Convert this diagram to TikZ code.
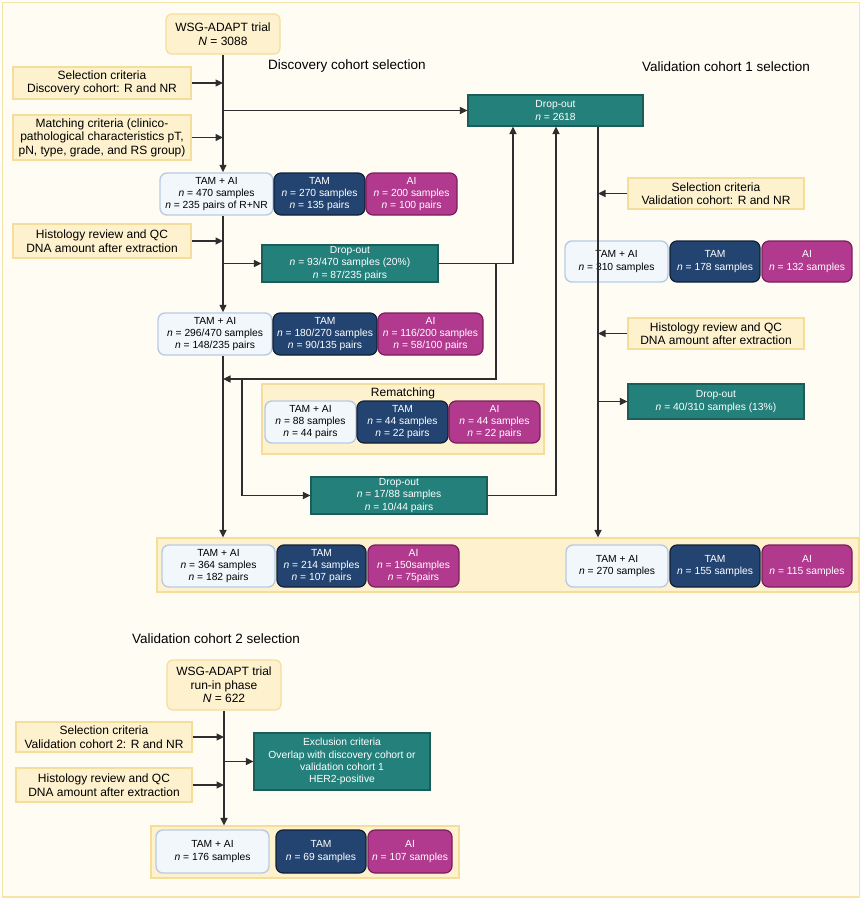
\documentclass[tikz,border=0pt]{standalone}
\usepackage{fontspec}
\setmainfont{Liberation Sans}
\usetikzlibrary{arrows.meta}
\definecolor{bgc}{HTML}{FFFCF3}
\definecolor{frameedge}{HTML}{F6E3A6}
\definecolor{yfill}{HTML}{FDF1CE}
\definecolor{yedge}{HTML}{F5DD9B}
\definecolor{tealc}{HTML}{24807A}
\definecolor{tealedge}{HTML}{1B5E59}
\definecolor{navyc}{HTML}{234470}
\definecolor{navyedge}{HTML}{111F36}
\definecolor{magc}{HTML}{B13A8F}
\definecolor{magedge}{HTML}{7A1F5C}
\definecolor{lightc}{HTML}{F2F7FC}
\definecolor{lightedge}{HTML}{B9CCE4}
\definecolor{linec}{HTML}{2E2E2E}
\newcommand\nn{\textit{n}}
\newcommand\bx[7]{\node[#2, minimum width={#5-#3}, minimum height={#6-#4}] (#1) at ({(#3+#5)/2},{(#4+#6)/2}) {#7};}
\begin{document}
\begin{tikzpicture}[x=1pt,y=-1pt,
  every node/.style={inner sep=0pt, align=center},
  crit/.style={draw=yedge, fill=yfill, line width=1.2pt, font=\fontsize{12}{13.5}\selectfont},
  ryel/.style={crit, rounded corners=6pt},
  frm/.style={draw=yedge, fill=yfill, line width=1.2pt},
  tealbox/.style={draw=tealedge, fill=tealc, text=white, line width=1.2pt, font=\fontsize{10.3}{12.2}\selectfont},
  lbox/.style={draw=lightedge, fill=lightc, line width=1.4pt, rounded corners=7pt, font=\fontsize{10.3}{12.2}\selectfont},
  nbox/.style={draw=navyedge, fill=navyc, text=white, line width=1.2pt, rounded corners=7pt, font=\fontsize{10.3}{12.2}\selectfont},
  mbox/.style={draw=magedge, fill=magc, text=white, line width=1.2pt, rounded corners=7pt, font=\fontsize{10.3}{12.2}\selectfont},
  ttl/.style={font=\fontsize{13.5}{15}\selectfont},
  ln/.style={draw=linec, line width=1.4pt},
  arr/.style={ln, -{Triangle[length=7.5pt,width=7pt]}}
]
\useasboundingbox (0,0) rectangle (864,900);
\draw[fill=bgc, draw=frameedge, line width=1.5pt] (2.5,2.5) rectangle (859.5,897);

% titles
\node[ttl] (t1) at (347,66.5) {Discovery cohort selection};
\node[ttl] (t2) at (726,66.5) {Validation cohort 1 selection};
\node[ttl] (t3) at (216,639) {Validation cohort 2 selection};

% discovery column
\bx{A}{ryel}{166}{14}{280}{54}{WSG-ADAPT trial\\\textit{N} = 3088}
\bx{sel1}{crit}{13}{67}{191}{99}{Selection criteria\\Discovery cohort: R and NR}
\bx{mat1}{crit}{13}{115}{191}{160}{Matching criteria (clinico-\\pathological characteristics pT,\\pN, type, grade, and RS group)}
\bx{do0}{tealbox}{468}{95}{643}{126}{Drop-out\\\nn{} = 2618}
\bx{r1a}{lbox}{160}{173}{273}{215}{TAM + AI\\\nn{} = 470 samples\\\nn{} = 235 pairs of R+NR}
\bx{r1b}{nbox}{274}{173}{365}{215}{TAM\\\nn{} = 270 samples\\\nn{} = 135 pairs}
\bx{r1c}{mbox}{366}{173}{457}{215}{AI\\\nn{} = 200 samples\\\nn{} = 100 pairs}
\bx{his1}{crit}{13}{224}{191}{258}{Histology review and QC\\DNA amount after extraction}
\bx{do2}{tealbox}{262}{245}{438}{282}{Drop-out\\\nn{} = 93/470 samples (20\%)\\\nn{} = 87/235 pairs}
\bx{r2a}{lbox}{158}{313}{272}{355}{TAM + AI\\\nn{} = 296/470 samples\\\nn{} = 148/235 pairs}
\bx{r2b}{nbox}{273}{313}{377}{355}{TAM\\\nn{} = 180/270 samples\\\nn{} = 90/135 pairs}
\bx{r2c}{mbox}{378}{313}{483}{355}{AI\\\nn{} = 116/200 samples\\\nn{} = 58/100 pairs}

% rematching
\bx{rem}{frm}{262}{384}{544}{454}{}
\node[font=\fontsize{12}{13.5}\selectfont] (remt) at (403,393.5) {Rematching};
\bx{r3a}{lbox}{265}{401}{356}{443}{TAM + AI\\\nn{} = 88 samples\\\nn{} = 44 pairs}
\bx{r3b}{nbox}{357}{401}{448}{443}{TAM\\\nn{} = 44 samples\\\nn{} = 22 pairs}
\bx{r3c}{mbox}{449}{401}{540}{443}{AI\\\nn{} = 44 samples\\\nn{} = 22 pairs}
\bx{do3}{tealbox}{311}{477}{487}{514}{Drop-out\\\nn{} = 17/88 samples\\\nn{} = 10/44 pairs}

% validation 1 column
\bx{selv}{crit}{628}{178}{804}{209}{Selection criteria\\Validation cohort: R and NR}
\bx{v1a}{lbox}{565}{241}{668}{282}{TAM + AI\\\nn{} = 310 samples}
\bx{v1b}{nbox}{670}{241}{760}{282}{TAM\\\nn{} = 178 samples}
\bx{v1c}{mbox}{762}{241}{852}{282}{AI\\\nn{} = 132 samples}
\bx{hisv}{crit}{628}{318}{804}{349}{Histology review and QC\\DNA amount after extraction}
\bx{do4}{tealbox}{628}{384}{804}{419}{Drop-out\\\nn{} = 40/310 samples (13\%)}

% final row
\bx{fin}{frm}{157}{538}{859}{592}{}
\bx{f1a}{lbox}{162}{545}{275}{587}{TAM + AI\\\nn{} = 364 samples\\\nn{} = 182 pairs}
\bx{f1b}{nbox}{277}{545}{366}{587}{TAM\\\nn{} = 214 samples\\\nn{} = 107 pairs}
\bx{f1c}{mbox}{368}{545}{459}{587}{AI\\\nn{} = 150samples\\\nn{} = 75pairs}
\bx{f2a}{lbox}{566}{545}{668}{587}{TAM + AI\\\nn{} = 270 samples}
\bx{f2b}{nbox}{670}{545}{760}{587}{TAM\\\nn{} = 155 samples}
\bx{f2c}{mbox}{762}{545}{852}{587}{AI\\\nn{} = 115 samples}

% validation 2
\bx{B}{ryel}{167}{660}{281}{710}{WSG-ADAPT trial\\run-in phase\\\textit{N} = 622}
\bx{sel2}{crit}{16}{722}{192}{752}{Selection criteria\\Validation cohort 2: R and NR}
\bx{his2}{crit}{16}{768}{192}{802}{Histology review and QC\\DNA amount after extraction}
\bx{exc}{tealbox}{254}{733}{430}{790}{Exclusion criteria\\Overlap with discovery cohort or\\validation cohort 1\\HER2-positive}
\bx{fin2}{frm}{151}{826}{459}{878}{}
\bx{b1}{lbox}{156}{830}{269}{873}{TAM + AI\\\nn{} = 176 samples}
\bx{b2}{nbox}{276}{830}{366}{873}{TAM\\\nn{} = 69 samples}
\bx{b3}{mbox}{368}{830}{452}{873}{AI\\\nn{} = 107 samples}

% coordinates
\coordinate (xa) at (513,0);
\coordinate (xb) at (496,0);
\coordinate (xc) at (556,0);
\coordinate (xv) at (598,0);
\coordinate (ret) at (496,379);
\coordinate (rs) at (242,379);

% connectors discovery
\draw[arr] (A.south) -- (A.south |- r1a.north);
\draw[arr] (A.south |- r1a.south) -- (A.south |- r2a.north);
\draw[arr] (A.south |- r2a.south) -- (A.south |- fin.north);
\draw[arr] (sel1.east) -- (sel1.east -| A.south);
\draw[arr] (mat1.east) -- (mat1.east -| A.south);
\draw[arr] (A.south |- do0.west) -- (do0.west);
\draw[arr] (his1.east) -- (his1.east -| A.south);
\draw[arr] (A.south |- do2.west) -- (do2.west);
\draw[arr] (do2.east) -| (xa |- do0.south);
\draw[arr] (xb |- do2.east) -- (ret) -- (A.south |- ret);
\draw[arr] (rs) |- (do3.west);
\draw[arr] (do3.east) -| (xc |- do0.south);

% connectors validation 1
\draw[arr] (xv |- do0.south) -- (xv |- fin.north);
\draw[arr] (selv.west) -- (selv.west -| xv);
\draw[arr] (hisv.west) -- (hisv.west -| xv);
\draw[arr] (xv |- do4.west) -- (do4.west);

% connectors validation 2
\draw[arr] (B.south) -- (B.south |- fin2.north);
\draw[arr] (sel2.east) -- (sel2.east -| B.south);
\draw[arr] (his2.east) -- (his2.east -| B.south);
\draw[arr] (B.south |- exc.west) -- (exc.west);
\end{tikzpicture}
\end{document}
